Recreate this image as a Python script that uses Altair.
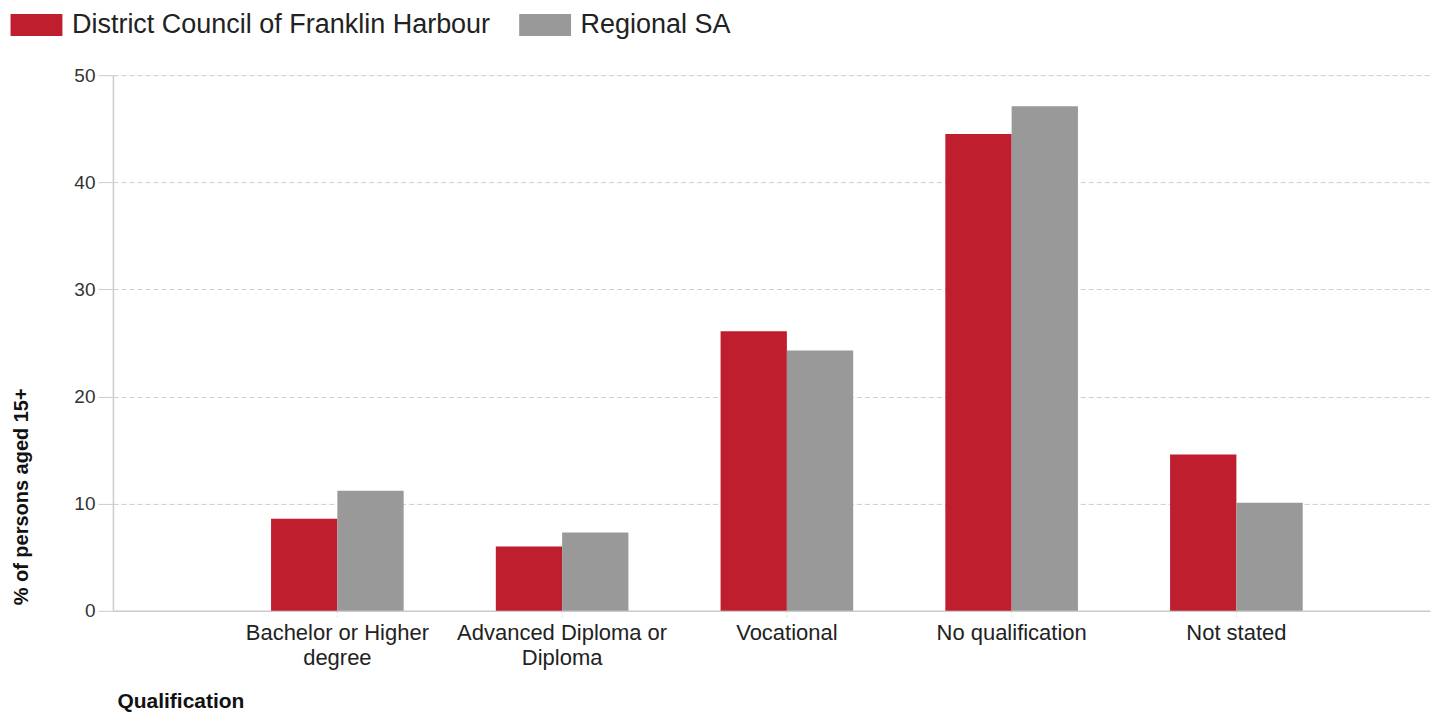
import altair as alt
import pandas as pd

categories = ["Bachelor or Higher degree", "Advanced Diploma or Diploma",
              "Vocational", "No qualification", "Not stated"]
franklin = [8.6, 6.0, 26.1, 44.5, 14.6]
regional = [11.2, 7.3, 24.3, 47.1, 10.1]
series = ["District Council of Franklin Harbour", "Regional SA"]
colors = ["#BE1E2D", "#999999"]

rows = []
for c, f, r in zip(categories, franklin, regional):
    rows.append({"Qualification": c, "Series": series[0], "Value": f})
    rows.append({"Qualification": c, "Series": series[1], "Value": r})
df = pd.DataFrame(rows)

font = "Liberation Sans"

label_expr = ("datum.label == 'Bachelor or Higher degree' ? ['Bachelor or Higher', 'degree'] : "
              "datum.label == 'Advanced Diploma or Diploma' ? ['Advanced Diploma or', 'Diploma'] : datum.label")

chart = alt.Chart(df).mark_bar().encode(
    x=alt.X("Qualification:N", sort=categories,
            scale=alt.Scale(paddingInner=0.41, paddingOuter=0.635, align=0.554),
            axis=alt.Axis(title="Qualification", labelAngle=0, labelExpr=label_expr,
                          labelFont=font, labelFontSize=22, labelColor="#222222",
                          labelLineHeight=25, labelPadding=5, labelBaseline="top",
                          labelLimit=500,
                          tickColor="#dddddd", tickSize=7, tickDash=[2, 2],
                          domainColor="#cccccc", domainWidth=1.5,
                          titleFont=font, titleFontSize=21, titleFontWeight="bold",
                          titleColor="#111111", titleAnchor="start", titleAlign="left",
                          titleX=4, titleY=91, titleBaseline="middle")),
    xOffset=alt.XOffset("Series:N", sort=series),
    y=alt.Y("Value:Q", scale=alt.Scale(domain=[0, 50]),
            axis=alt.Axis(title="% of persons aged 15+", values=[0, 10, 20, 30, 40, 50],
                          labelFont=font, labelFontSize=19, labelColor="#333333",
                          labelPadding=3, tickColor="#cccccc", tickSize=15,
                          domainColor="#cccccc", domainWidth=1.5,
                          gridColor="#cccccc", gridDash=[5, 3], gridWidth=1,
                          titleFont=font, titleFontSize=20, titleFontWeight="bold",
                          titleColor="#111111", titleAngle=270, titleAnchor="start",
                          titleAlign="left", titleX=-91, titleY=530,
                          titleBaseline="middle")),
    color=alt.Color("Series:N", sort=series,
                    scale=alt.Scale(domain=series, range=colors),
                    legend=alt.Legend(title=None, orient="none", legendX=-90, legendY=-64,
                                      direction="horizontal",
                                      symbolType="M-2.36,-1H2.36V1H-2.36Z",
                                      symbolSize=484, symbolStrokeWidth=0,
                                      symbolOpacity=1, labelLimit=800,
                                      labelFont=font, labelFontSize=27,
                                      labelColor="#222222", labelOffset=22,
                                      columnPadding=28)),
).properties(
    width=1318, height=536,
    autosize=alt.AutoSizeParams(type="none"),
    padding={"left": 105, "top": 67, "right": 3, "bottom": 105},
).configure_view(stroke=None).configure_axisX(grid=False)

chart.save("out.html", embed_options={"renderer": "svg", "actions": False})
